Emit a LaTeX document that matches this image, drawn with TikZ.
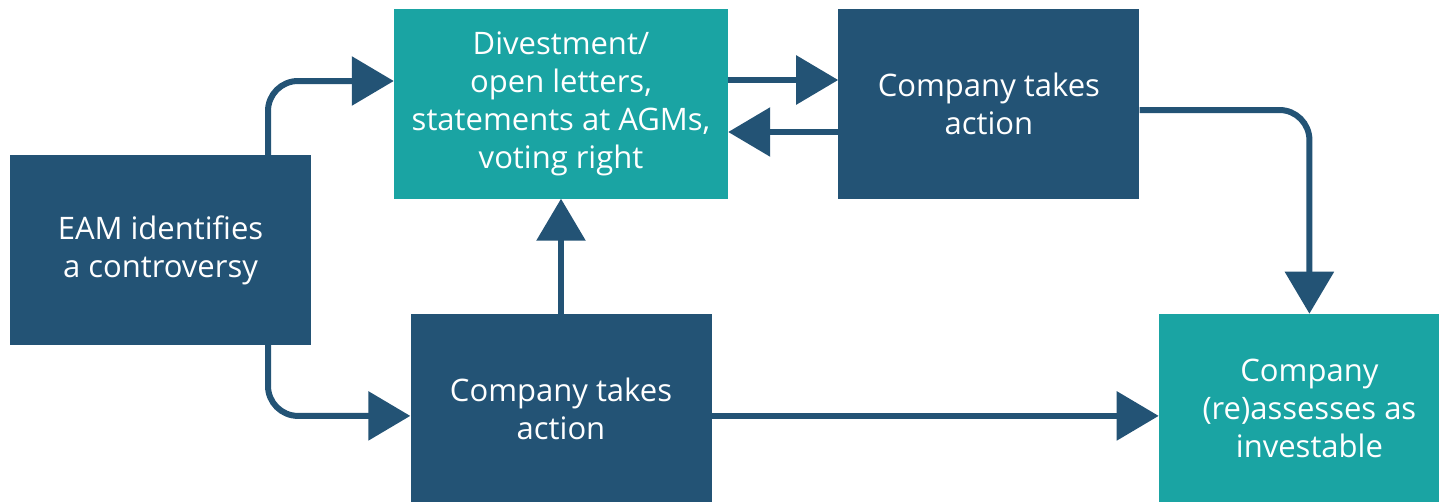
\documentclass[tikz,border=0pt]{standalone}
\usepackage{fontspec}
\setmainfont{Open Sans}
\usetikzlibrary{arrows.meta,positioning}
\definecolor{morkblaa}{RGB}{35,83,117}
\definecolor{groen}{RGB}{26,164,163}
\tikzset{
	%Define standard arrow tip
	>={Triangle[length=42pt,width=48pt]},
	%Define style for boxes
	boks/.style={
		rectangle,
		text=white,
		minimum width=301pt,
		minimum height=190pt,
		inner sep=0pt,
		align=center,
		font=\fontsize{31}{38}\selectfont},
	morkboks/.style={boks, fill=morkblaa},
	groenboks/.style={boks, fill=groen},
	% Define arrow style
	pil/.style={
		->,
		line width=6pt,
		draw=morkblaa,
		rounded corners=30pt,}
}
\begin{document}
\begin{tikzpicture}[x=1pt, y=-1pt]
	
	\useasboundingbox (0,0) rectangle (1439,501);
	
	\node[morkboks] (eam) at (160.5,250) {EAM identifies\\a controversy};
	\node[groenboks, minimum width=334pt] (divest) at (561,103.5) {Divestment/\\open letters,\\statements at AGMs,\\voting right};
	\node[morkboks, right =110pt of divest] (topco) {Company takes\\action};
	\node[morkboks, below =115pt of divest] (botco) {Company takes\\action};
	\node[groenboks, right =447pt of botco] (invest) {Company\\(re)assesses as\\investable};
	
	\draw[pil] ([xshift=107.5pt]eam.north) |- ([yshift=22.5pt]divest.west);
	\draw[pil] ([xshift=107.5pt]eam.south) |- ([yshift=-7pt]botco.west);
	\draw[pil] (botco.north) -- (divest.south);
	\draw[pil] ([yshift=23.5pt]divest.east) -- ([yshift=23.5pt]topco.west);
	\draw[pil] ([yshift=-28.5pt]topco.west) -- ([yshift=-28.5pt]divest.east);
	\draw[pil] ([yshift=-6.5pt]topco.east) -| (invest.north);
	\draw[pil] ([yshift=-7pt]botco.east) -- ([yshift=-7pt]invest.west);
	
\end{tikzpicture}
\end{document}
